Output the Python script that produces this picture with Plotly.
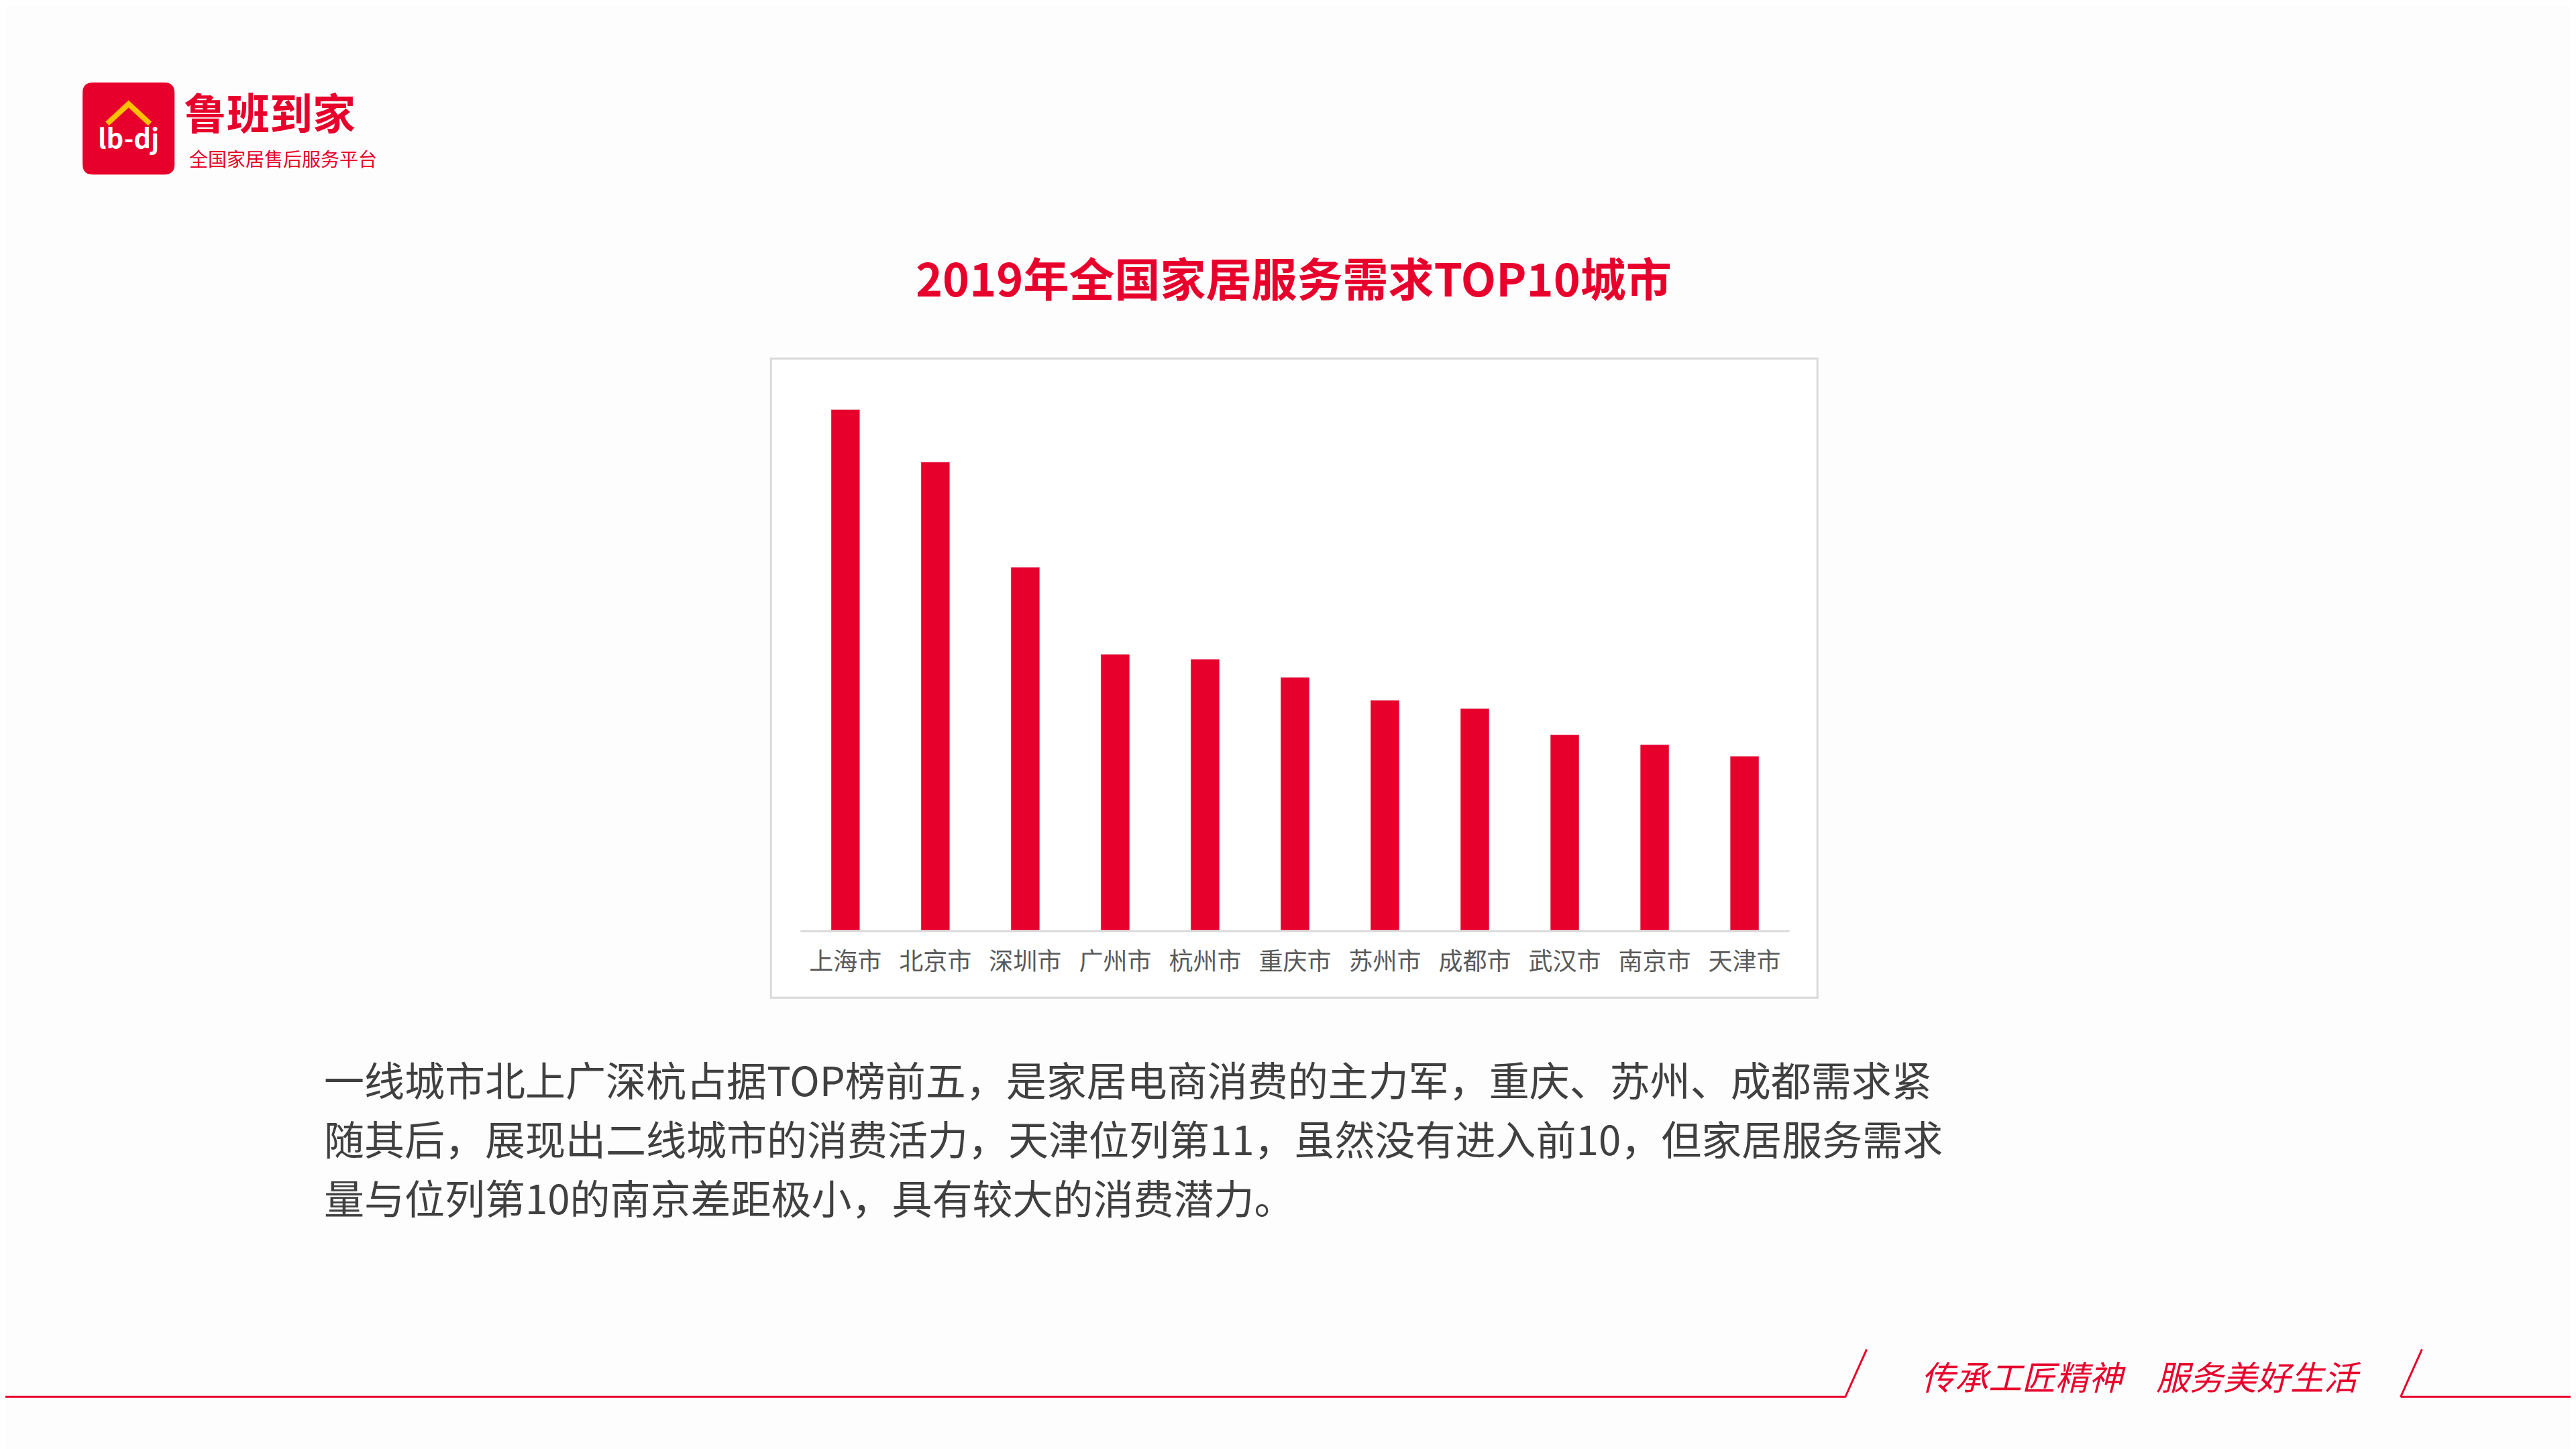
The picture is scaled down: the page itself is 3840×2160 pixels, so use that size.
import plotly.graph_objects as go

# data
cities = ['上海市', '北京市', '深圳市', '广州市', '杭州市', '重庆市', '苏州市', '成都市', '武汉市', '南京市', '天津市']
demand = [317, 285, 221, 168, 165, 154, 140, 135, 119, 113, 106]
paragraph = [
    '一线城市北上广深杭占据TOP榜前五，是家居电商消费的主力军，重庆、苏州、成都需求紧',
    '随其后，展现出二线城市的消费活力，天津位列第11，虽然没有进入前10，但家居服务需求',
    '量与位列第10的南京差距极小，具有较大的消费潜力。',
]

RED = '#E8002C'
FONT = 'Noto Sans CJK SC'
W, H = 1568, 882  # reference coords, scaled to paper


def px(x):
    return x / W


def py(y):
    return 1 - y / H


fig = go.Figure()
fig.add_trace(go.Bar(x=cities, y=demand, marker_color=RED, width=0.32))

# rounded logo box path
x0, x1, y0, y1, r = px(47), px(103), py(103), py(47), 0.004
ry = r * W / H
logo_path = (f'M {x0+r} {y0} L {x1-r} {y0} Q {x1} {y0} {x1} {y0+ry} L {x1} {y1-ry} Q {x1} {y1} {x1-r} {y1} '
             f'L {x0+r} {y1} Q {x0} {y1} {x0} {y1-ry} L {x0} {y0+ry} Q {x0} {y0} {x0+r} {y0} Z')

shapes = [
    # chart frame
    dict(type='rect', xref='paper', yref='paper', x0=px(466), x1=px(1103), y0=py(604), y1=py(215),
         line=dict(color='#D9D9D9', width=3), fillcolor='white', layer='below'),
    # axis line
    dict(type='line', xref='paper', yref='paper', x0=px(484), x1=px(1086), y0=py(563.5), y1=py(563.5),
         line=dict(color='#D9D9D9', width=3)),
    # logo box
    dict(type='path', xref='paper', yref='paper', path=logo_path,
         line=dict(color=RED, width=0), fillcolor=RED),
    # roof on the logo
    dict(type='path', xref='paper', yref='paper',
         path=f'M {px(62)} {py(72)} L {px(75)} {py(60)} L {px(88)} {py(72)}',
         line=dict(color='#FFC000', width=8)),
    # footer line
    dict(type='path', xref='paper', yref='paper',
         path=f'M 0 {py(847)} L {px(1120)} {py(847)} L {px(1133)} {py(818)}',
         line=dict(color=RED, width=3)),
    dict(type='path', xref='paper', yref='paper',
         path=f'M {px(1458)} {py(847)} L {px(1471)} {py(818)} M {px(1458)} {py(847)} L 1 {py(847)}',
         line=dict(color=RED, width=3)),
]

annotations = [
    dict(text='<b>2019年全国家居服务需求TOP10城市</b>', x=0.5, y=py(165), font=dict(size=68, color=RED, family=FONT),
         xanchor='center', yanchor='middle', showarrow=False),
    dict(text='<i>传承工匠精神　服务美好生活</i>', x=px(1300), y=py(834), xanchor='center', yanchor='middle',
         showarrow=False, font=dict(size=50, color=RED, family=FONT)),
    dict(text='<b>鲁班到家</b>', x=px(108), y=py(64), xanchor='left', yanchor='middle', showarrow=False,
         font=dict(size=64, color=RED, family=FONT)),
    dict(text='全国家居售后服务平台', x=px(111), y=py(93), xanchor='left', yanchor='middle', showarrow=False,
         font=dict(size=28, color=RED, family=FONT)),
    dict(text='<b>lb-dj</b>', x=px(75), y=py(80), xanchor='center', yanchor='middle', showarrow=False,
         font=dict(size=40, color='white', family=FONT)),
]
for i, line in enumerate(paragraph):
    annotations.append(dict(text=line, x=px(193), y=py(653 + 36 * i), xanchor='left', yanchor='middle',
                            showarrow=False, font=dict(size=60, color='#404040', family=FONT)))
for a in annotations:
    a.update(xref='paper', yref='paper')

fig.update_layout(
    width=3840, height=2160,
    paper_bgcolor='#FDFDFD', plot_bgcolor='rgba(0,0,0,0)',
    margin=dict(l=0, r=0, t=0, b=0),
    showlegend=False,
    shapes=shapes, annotations=annotations,
    xaxis=dict(domain=[px(484), px(1086)], showline=False, ticks='', showgrid=False,
               ticklabelstandoff=22, tickfont=dict(size=36, color='#595959', family=FONT)),
    yaxis=dict(domain=[py(563), py(235)], range=[0, 328], visible=False),
    bargap=0.5,
)

fig.write_html('out.html')
